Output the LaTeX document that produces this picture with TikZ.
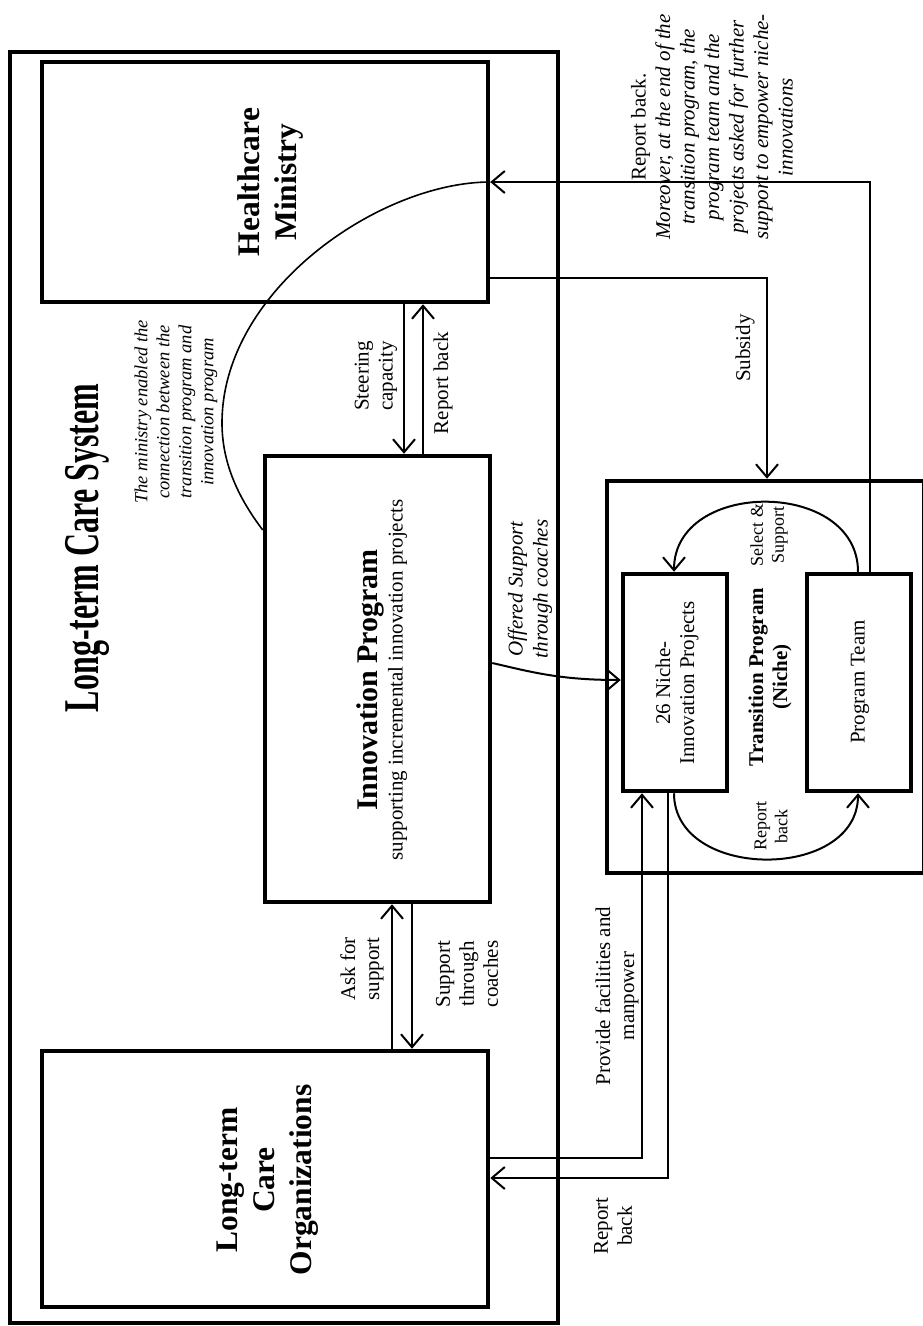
\documentclass[tikz,border=0pt]{standalone}
\usepackage{fontspec}
\setmainfont{Liberation Serif}
\usepackage{graphicx}
\usetikzlibrary{arrows.meta}
\begin{document}
\begin{tikzpicture}[x=1pt,y=1pt,
  box/.style={draw, line width=4.5pt, inner sep=0pt},
  lbl/.style={rotate=90, align=center, inner sep=0pt, font=\fontsize{21}{24}\selectfont},
  small/.style={lbl, font=\fontsize{18}{21}\selectfont},
  note/.style={lbl, font=\fontsize{18.5}{22}\selectfont\itshape},
  head/.style={lbl, font=\fontsize{31.5}{37}\selectfont\bfseries},
  title/.style={lbl, font=\fontsize{50}{50}\selectfont\bfseries},
  arr/.style={line width=2pt, -{Straight Barb[length=13pt,width=22pt]}},
  link/.style={line width=1.6pt}]

\path[use as bounding box, fill=white] (0,0) rectangle (923,-1326);

% boxes
\node[box, minimum width=548pt, minimum height=1271pt] (sys) at (284,-687.5) {};
\node[box, minimum width=446pt, minimum height=240pt] (min) at (265,-182) {};
\node[box, minimum width=225pt, minimum height=446pt] (ip) at (377.5,-679) {};
\node[box, minimum width=446pt, minimum height=256pt] (ltco) at (265,-1179) {};
\node[box, minimum width=317.5pt, minimum height=392pt] (tp) at (765.75,-677) {};
\node[box, minimum width=104pt, minimum height=217pt] (niche) at (675,-682.5) {};
\node[box, minimum width=104pt, minimum height=217pt] (team) at (859,-682.5) {};

% texts
\node[title] (tTitle) at (87,-548) {\scalebox{0.64}[1]{Long-term Care System}};
\node[note] (tMinNote) at (176,-412) {The ministry enabled the\\connection between the\\transition program and\\innovation program};
\node[head] (tMin) at (270,-182) {Healthcare\\Ministry};
\node[lbl] (tSteer) at (376,-376) {Steering\\capacity};
\node[lbl] (tRep1) at (443,-383) {Report back};
\node[lbl] (tIP) at (382,-680) {{\fontsize{30}{30}\selectfont\bfseries Innovation Program}\\[1pt]supporting incremental innovation projects};
\node[lbl] (tAsk) at (362,-969) {Ask for\\support};
\node[lbl] (tSup) at (467,-974) {Support\\through\\coaches};
\node[head] (tLtco) at (268,-1180) {Long-term\\Care\\Organizations};
\node[lbl] (tSub) at (745,-348) {Subsidy};
\node[lbl, font=\fontsize{21}{24.5}\selectfont] (tRep2) at (712,-127) {Report back.\\\textit{Moreover, at the end of the}\\\textit{transition program, the}\\\textit{program team and the}\\\textit{projects asked for further}\\\textit{support to empower niche-}\\\textit{innovations}};
\node[lbl, font=\fontsize{21}{25}\selectfont\itshape] (tOff) at (530,-589) {Offered Support\\through coaches};
\node[lbl, font=\fontsize{21}{24}\selectfont\bfseries] (tTP) at (770,-677) {Transition Program\\(Niche)};
\node[lbl] (tNiche) at (677,-683) {26 Niche-\\Innovation Projects};
\node[lbl] (tTeam) at (860,-682) {Program Team};
\node[small] (tSel) at (769,-535) {Select \&\\Support};
\node[small] (tRep3) at (771,-826) {Report\\back};
\node[lbl] (tProv) at (617,-996) {Provide facilities and\\manpower};
\node[lbl] (tRep4) at (613,-1226) {Report\\back};

% connector end points
\coordinate (stA) at ([xshift=26.5]ip.north);
\coordinate (rbA) at ([xshift=45.5]ip.north);
\coordinate (askA) at ([xshift=14.5]ip.south);
\coordinate (supA) at ([xshift=34.5]ip.south);
\coordinate (subA) at ([yshift=-96]min.east);
\coordinate (subB) at ([xshift=1.25]tp.north);
\coordinate (teamOut) at ([xshift=11]team.north);
\coordinate (ipOut) at ([yshift=149]ip.west);

% ministry <-> innovation program
\draw[arr] (stA |- min.south) -- (stA);
\draw[arr] (rbA) -- (rbA |- min.south);
% organizations <-> innovation program
\draw[arr] (askA |- ltco.north) -- (askA);
\draw[arr] (supA) -- (supA |- ltco.north);
% subsidy and report back between ministry and transition program
\draw[arr] (subA) -| (subB);
\draw[arr] (teamOut) |- (min.east);
% ministry linking the two programs
\draw[link] (ipOut) .. controls (240,-500) and (222,-465) .. (222,-423)
  .. controls (222,-290) and (380,-182) .. (min.east);
% coaches offered to the niche projects
\draw[arr] ([yshift=16]ip.east) .. controls +(39,-9) and +(-61,0) .. ([yshift=2.5]niche.west);
% inside the transition program
\draw[arr] ([xshift=-1]team.north) .. controls +(0,93) and +(0,93) .. ([xshift=-1]niche.north);
\draw[arr] ([xshift=-1]niche.south) .. controls +(0,-88) and +(0,-88) .. ([xshift=-1]team.south);
% organizations <-> niche projects
\draw[arr] ([yshift=21]ltco.east) -| ([xshift=-33]niche.south);
\draw[arr] ([xshift=-7]niche.south) |- ([yshift=1]ltco.east);
\end{tikzpicture}
\end{document}
